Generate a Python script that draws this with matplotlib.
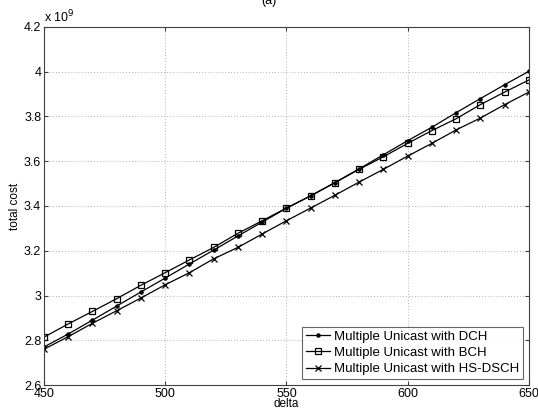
import numpy as np
import matplotlib.pyplot as plt
from matplotlib.ticker import FuncFormatter, MultipleLocator

plt.rcParams['font.family'] = ['Liberation Sans', 'DejaVu Sans']

delta = np.arange(450, 651, 10)

# total cost, in units of 1e9
cost_dch = [2.770, 2.828, 2.890, 2.953, 3.016, 3.078, 3.141, 3.203, 3.266, 3.328, 3.390,
            3.446, 3.505, 3.566, 3.629, 3.692, 3.752, 3.817, 3.880, 3.942, 4.002]
cost_bch = [2.814, 2.873, 2.929, 2.986, 3.046, 3.102, 3.159, 3.215, 3.278, 3.334, 3.391,
            3.445, 3.504, 3.564, 3.620, 3.680, 3.737, 3.790, 3.853, 3.909, 3.963]
cost_hs = [2.760, 2.816, 2.876, 2.932, 2.989, 3.048, 3.102, 3.164, 3.215, 3.275, 3.334,
           3.391, 3.448, 3.507, 3.564, 3.623, 3.680, 3.740, 3.793, 3.853, 3.909]

labels = ["Multiple Unicast with DCH", "Multiple Unicast with BCH",
          "Multiple Unicast with HS-DSCH"]

fig = plt.figure(figsize=(5.38, 4.12), dpi=100)
ax = fig.add_axes([0.0818, 0.0655, 0.9012, 0.869])

scale = 1e9
ax.plot(delta, np.array(cost_dch) * scale, color='black', lw=0.9,
        marker='.', markersize=4.5, label=labels[0])
ax.plot(delta, np.array(cost_bch) * scale, color='black', lw=0.9,
        marker='s', markersize=4, markerfacecolor='none', markeredgewidth=0.9, label=labels[1])
ax.plot(delta, np.array(cost_hs) * scale, color='black', lw=0.9,
        marker='x', markersize=4.5, markeredgewidth=0.9, label=labels[2])

ax.set_xlim(450, 650)
ax.set_ylim(2.6e9, 4.2e9)
ax.xaxis.set_major_locator(MultipleLocator(50))
ax.yaxis.set_major_locator(MultipleLocator(0.2e9))
ax.yaxis.set_major_formatter(FuncFormatter(lambda v, p: f"{v / scale:g}"))

ax.grid(True, linestyle=(0, (1, 2.5)), color='#9a9a9a', lw=0.6)
ax.tick_params(direction='in', top=True, right=True, labelsize=9, length=3,
               color='#404040', pad=2)
for sp in ax.spines.values():
    sp.set_color('#404040')
    sp.set_linewidth(0.8)

ax.text(0.0, 1.005, r"x 10$^{9}$", transform=ax.transAxes, fontsize=9,
        ha='left', va='bottom')

ax.set_xlabel("delta", fontsize=8.5, labelpad=-1)
ax.set_ylabel("total cost", fontsize=8.5, labelpad=2)
fig.text(0.5, 0.998, "(a)", ha='center', va='center', fontsize=9)

leg = ax.legend(loc='lower right', fontsize=9.5, frameon=True, fancybox=False,
                edgecolor='#404040', borderpad=0.3, labelspacing=0.3,
                handlelength=1.8, handletextpad=0.3, borderaxespad=0.45)
leg.get_frame().set_linewidth(0.8)

fig.savefig("out.png", dpi=100)
